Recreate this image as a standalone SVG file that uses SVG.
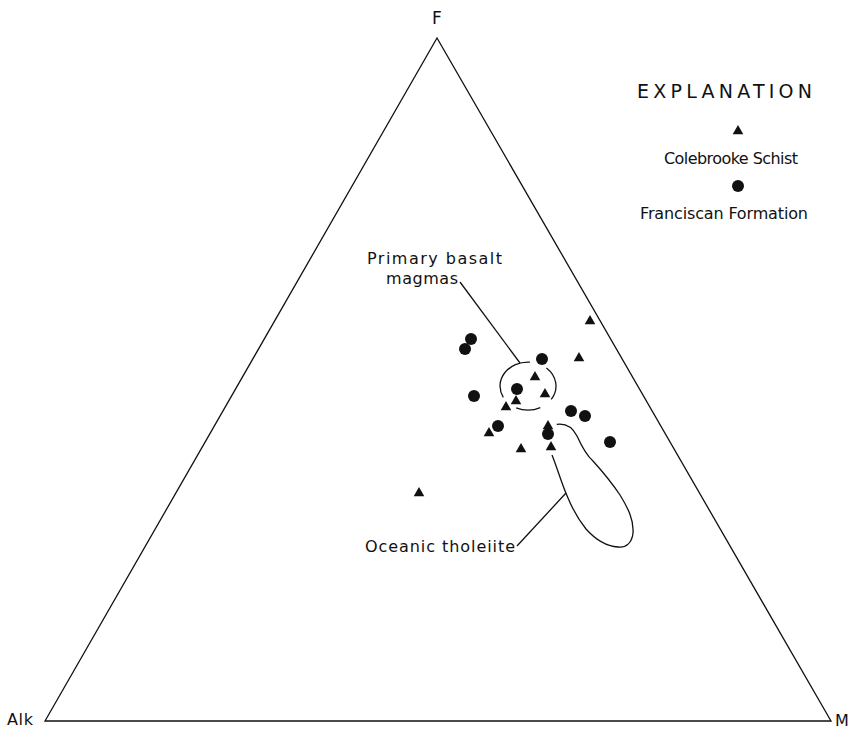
<svg xmlns="http://www.w3.org/2000/svg" width="854" height="729" viewBox="0 0 854 729">
<style>
  text { font-family: "DejaVu Sans", "Liberation Sans", Arial, sans-serif; fill: #111; }
  .lbl { font-size: 16px; }
  .line { fill: none; stroke: #111; stroke-width: 1.3; }
  .tri { fill: #111; }
  .dot { fill: #111; }
</style>
<defs>
  <polygon id="t" points="0,-5 5.3,4.2 -5.3,4.2"/>
  <circle id="c" r="6"/>
</defs>
<rect width="854" height="729" fill="#fff"/>
<g id="triangle-frame">
  <polygon class="line" points="437,38 45,721 831,721"/>
  <text x="437" y="24" font-size="17" text-anchor="middle">F</text>
  <text x="7" y="725" font-size="16" textLength="26" lengthAdjust="spacing">Alk</text>
  <text x="835" y="726" font-size="16">M</text>
</g>
<g id="legend">
  <text x="637" y="98" font-size="19" textLength="175" lengthAdjust="spacing">EXPLANATION</text>
  <use href="#t" class="tri" x="738" y="130"/>
  <text x="664" y="164" class="lbl" textLength="134" lengthAdjust="spacing">Colebrooke Schist</text>
  <use href="#c" class="dot" x="738" y="186"/>
  <text x="640" y="219" class="lbl" textLength="168" lengthAdjust="spacing">Franciscan Formation</text>
</g>
<g id="primary-basalt-magmas">
  <text x="367" y="264" class="lbl" textLength="135" lengthAdjust="spacing">Primary basalt</text>
  <text x="386" y="284" class="lbl" textLength="72" lengthAdjust="spacing">magmas</text>
  <path class="line" d="M529.9,362.1 A28,24 0 0 0 503.3,397.3 M546.4,367.9 A28,24 0 0 1 551.2,399.4 M516.2,407.8 A28,24 0 0 0 540.3,407.6"/>
</g>
<g id="oceanic-tholeiite">
  <text x="365" y="552" class="lbl" textLength="150" lengthAdjust="spacing">Oceanic tholeiite</text>
  <path class="line" d="M556.7,424.3 C566,423 573,428 577,436 C582,447 586,455 593,461 C602,471 612,483 620,495 C628,508 634,520 633,533 C632,543 626,548 618,547 C605,546 594,538 586,529 C578,519 573,510 568,498 C562,485 558,470 552,455"/>
</g>
<g id="connectors">
  <line class="line" x1="460" y1="282" x2="520" y2="363"/>
  <line class="line" x1="517" y1="546" x2="566" y2="493"/>
</g>
<g id="data-colebrooke">
  <use href="#t" class="tri" x="590" y="320"/>
  <use href="#t" class="tri" x="579" y="357"/>
  <use href="#t" class="tri" x="535" y="376"/>
  <use href="#t" class="tri" x="545" y="393"/>
  <use href="#t" class="tri" x="516" y="400"/>
  <use href="#t" class="tri" x="506" y="406"/>
  <use href="#t" class="tri" x="489" y="432"/>
  <use href="#t" class="tri" x="548" y="425"/>
  <use href="#t" class="tri" x="551" y="446"/>
  <use href="#t" class="tri" x="521" y="448"/>
  <use href="#t" class="tri" x="419" y="492"/>
</g>
<g id="data-franciscan">
  <use href="#c" class="dot" x="471" y="339"/>
  <use href="#c" class="dot" x="465" y="349"/>
  <use href="#c" class="dot" x="542" y="359"/>
  <use href="#c" class="dot" x="517" y="389"/>
  <use href="#c" class="dot" x="474" y="396"/>
  <use href="#c" class="dot" x="571" y="411"/>
  <use href="#c" class="dot" x="585" y="416"/>
  <use href="#c" class="dot" x="498" y="426"/>
  <use href="#c" class="dot" x="548" y="434"/>
  <use href="#c" class="dot" x="610" y="442"/>
</g>
</svg>
